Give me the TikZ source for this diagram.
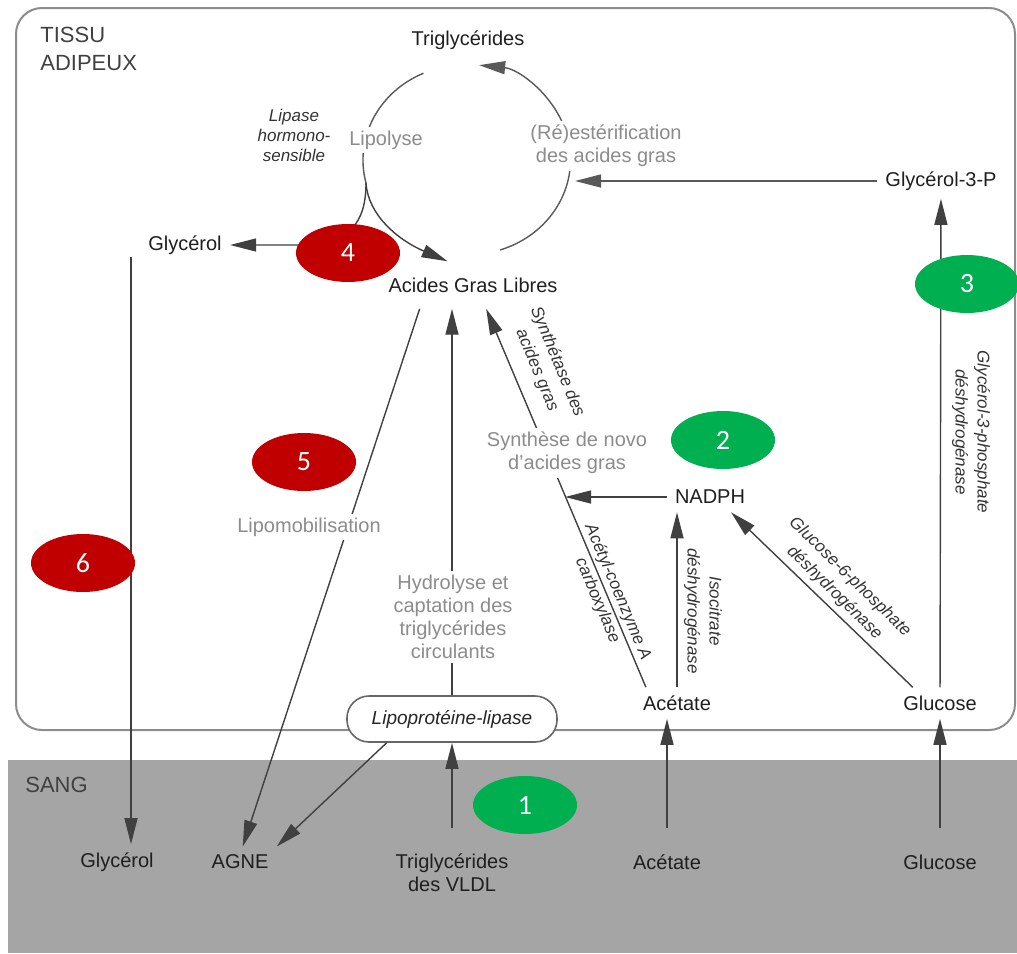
\documentclass[tikz,border=0pt]{standalone}
\usepackage{fontspec}
\setmainfont{Liberation Sans}
\newfontfamily\numfont{Carlito}
\usepackage{tikz}
\usetikzlibrary{positioning,calc}
\usetikzlibrary{arrows.meta,shapes.geometric}
\definecolor{numred}{HTML}{C00000}
\definecolor{numgreen}{HTML}{00B050}
\definecolor{bloodgray}{HTML}{A5A5A5}

\begin{document}
\begin{tikzpicture}[x=0.5pt,y=-0.5pt]
    \tikzset{
      TextStyle/.style = {font=\fontsize{10}{11.5}\selectfont, text=black!88, inner sep=4pt, align=center},
      PaleStyle/.style = {font=\fontsize{10}{11.5}\selectfont, text=black!45, align=center, fill=white, inner sep=2pt},
      EnzStyle/.style = {font=\fontsize{8.5}{11}\selectfont\itshape, text=black!80, align=center, inner sep=1pt},
      EdgeStyle/.style = {draw=black!75, line width=0.7pt, -{Triangle[length=13pt,width=6.5pt]}},
      LineStyle/.style = {draw=black!65, line width=0.7pt},
      NumStyle/.style = {ellipse, minimum width=52pt, minimum height=29pt, inner sep=0pt, text=white, font=\numfont\fontsize{14}{14}\selectfont},
      RedNum/.style = {NumStyle, fill=numred},
      GreenNum/.style = {NumStyle, fill=numgreen}
    }
    \useasboundingbox (0,0) rectangle (1017,953);
    \fill[bloodgray] (8,760) rectangle (1017,953);
    \draw[black!45, line width=1pt, rounded corners=13pt] (16,8) rectangle (1015,730);
    \node[TextStyle, anchor=west, align=left, text=black!75, font=\fontsize{11}{14}\selectfont] (tissu) at (32,49) {TISSU\\ADIPEUX};
    \node[TextStyle, anchor=west, text=black!75, font=\fontsize{11}{13}\selectfont] (sang) at (17,785) {SANG};
    \node[TextStyle] (tg) at (468,40) {Triglycérides};
    \node[TextStyle, inner ysep=8pt] (agl) at (473,285) {Acides Gras Libres};
    \node[TextStyle] (glyT) at (185,245) {Glycérol};
    \node[TextStyle] (g3p) at (941,181) {Glycérol-3-P};
    \node[TextStyle] (nadph) at (710,497) {NADPH};
    \node[TextStyle] (acetT) at (677,703) {Acétate};
    \node[TextStyle] (glucT) at (940,703) {Glucose};
    \node[EnzStyle, font=\fontsize{8.5}{10}\selectfont\itshape] (lhs) at (294,135) {Lipase\\hormono-\\sensible};
    \node[TextStyle] (glyB) at (117,862) {Glycérol};
    \node[TextStyle] (agne) at (240,862) {AGNE};
    \node[TextStyle] (vldl) at (452,873) {Triglycérides\\des VLDL};
    \node[TextStyle] (acetB) at (667,862) {Acétate};
    \node[TextStyle] (glucB) at (940,862) {Glucose};
    \coordinate (split) at (366,183);
    \coordinate (esterStart) at (500,250);
    \coordinate (esterIn) at (575,181);
    \coordinate (nadphIn) at (565,497);
    \coordinate (glyTop) at (131,257);
    \draw[LineStyle] (split) arc[start angle=166, end angle=246, x radius=102, y radius=95];
    \draw[EdgeStyle, draw=black!65] (esterStart) arc[start angle=72, end angle=-84, x radius=102, y radius=95];
    \draw[EdgeStyle] (split) .. controls (366,222) and (350,245) .. (300,245) -- (glyT.east);
    \draw[EdgeStyle] (split) .. controls (368,215) and (398,240) .. (agl.137);
    \draw[EdgeStyle, draw=black!65] (g3p) -- (esterIn);
    \draw[EdgeStyle] (glucT) -- (g3p);
    \draw[EdgeStyle] (glucT.150) -- (nadph.-36);
    \draw[EdgeStyle] (acetT.north) -- (acetT.north |- nadph.south);
    \draw[EdgeStyle] (nadph) -- (nadphIn);
    \draw[EdgeStyle] (acetT.153) -- (agl.-61);
    \draw[EdgeStyle] (agl.204) -- (agne.80);
    \draw[EdgeStyle] (glyTop) -- (glyTop |- glyB.north);
    \node[draw=black!60, line width=0.8pt, fill=white, rounded corners=11pt, minimum width=105pt, minimum height=23pt, font=\fontsize{9.5}{11}\selectfont\itshape, text=black!85] (lipo) at (452,719) {Lipoprotéine-lipase};
    \draw[EdgeStyle] (lipo) -- (lipo |- agl.south);
    \draw[EdgeStyle] (lipo.200) -- (agne.north east);
    \draw[EdgeStyle, shorten <=9pt] (vldl) -- (lipo);
    \draw[EdgeStyle, shorten <=9pt] (acetB.north) -- (acetB.north |- acetT.south);
    \draw[EdgeStyle, shorten <=9pt] (glucB) -- (glucT);
    \node[PaleStyle] (lipol) at (386,140) {Lipolyse};
    \node[PaleStyle] (ester) at (606,146) {(Ré)estérification\\des acides gras};
    \node[PaleStyle] (syn) at (567,453) {Synthèse de novo\\d'acides gras};
    \node[PaleStyle] (lipomob) at (309,527) {Lipomobilisation};
    \node[PaleStyle] (hydro) at (453,617) {Hydrolyse et\\captation des\\triglycérides\\circulants};
    \node[EnzStyle, rotate=-67.5] (fas) at (547,366) {Synthétase des\\acides gras};
    \node[EnzStyle, rotate=-67.1] (acc) at ($(acetT.153)!0.24!(agl.-61)$) {Acétyl-coenzyme A\\carboxylase};
    \node[EnzStyle, rotate=-90] (idh) at (703,611) {Isocitrate\\déshydrogénase};
    \node[EnzStyle, rotate=-44.3] (g6pd) at (842,585) {Glucose-6-phosphate\\déshydrogénase};
    \node[EnzStyle, rotate=-90] (g3pd) at (971,432) {Glycérol-3-phosphate\\déshydrogénase};
    \node[GreenNum] (n1) at (525,805) {1};
    \node[GreenNum] (n2) at (723,440) {2};
    \node[GreenNum] (n3) at (967,284) {3};
    \node[RedNum] (n4) at (348,253) {4};
    \node[RedNum] (n5) at (304,462) {5};
    \node[RedNum] (n6) at (83,563) {6};
\end{tikzpicture}
\end{document}
